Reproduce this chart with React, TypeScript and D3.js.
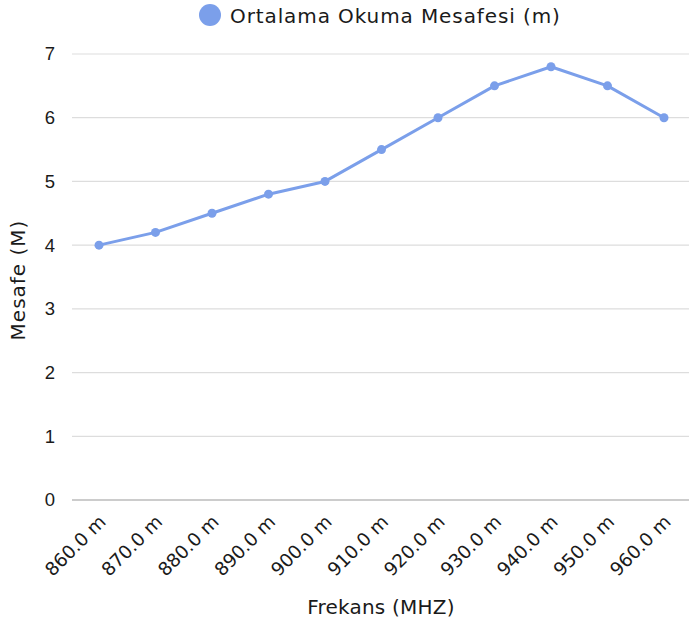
import React, { useEffect, useRef } from "react";
import * as d3 from "d3";

const frequencies = [860, 870, 880, 890, 900, 910, 920, 930, 940, 950, 960];
const distances = [4, 4.2, 4.5, 4.8, 5, 5.5, 6, 6.5, 6.8, 6.5, 6];
const yTicks = [0, 1, 2, 3, 4, 5, 6, 7];
const seriesName = "Ortalama Okuma Mesafesi (m)";

const App = () => {
  const svgRef = useRef<SVGSVGElement>(null);

  useEffect(() => {
    const w = 689;
    const h = 631;
    const color = "#7b9fea";
    const font = "'DejaVu Sans', sans-serif";
    const tickFont = "'Liberation Sans', Arial, sans-serif";

    const svg = d3.select(svgRef.current);
    svg.selectAll("*").remove();
    svg.attr("width", w).attr("height", h).style("font-family", font);

    const x = d3
      .scalePoint<number>()
      .domain(frequencies)
      .range([99, 664]);
    const y = d3.scaleLinear().domain([0, 7]).range([500, 54]);

    // grid
    svg
      .append("g")
      .selectAll("line")
      .data(yTicks)
      .join("line")
      .attr("x1", 72)
      .attr("x2", w)
      .attr("y1", (d) => y(d))
      .attr("y2", (d) => y(d))
      .attr("stroke", (d) => (d === 0 ? "#999" : "#ddd"))
      .attr("stroke-width", 1.2);

    svg
      .append("g")
      .selectAll("text")
      .data(yTicks)
      .join("text")
      .attr("x", 55)
      .attr("y", (d) => y(d))
      .attr("dy", "0.35em")
      .attr("text-anchor", "end")
      .attr("font-family", tickFont)
      .attr("font-size", 18.5)
      .attr("fill", "#1a1a1a")
      .text((d) => d);

    svg
      .append("g")
      .selectAll("text")
      .data(frequencies)
      .join("text")
      .attr(
        "transform",
        (d) => `translate(${(x(d) as number) + 8},${523}) rotate(-45)`
      )
      .attr("text-anchor", "end")
      .attr("font-size", 18.5)
      .attr("fill", "#1a1a1a")
      .text((d) => `${d.toFixed(1)} m`);

    const line = d3
      .line<number>()
      .x((d, i) => x(frequencies[i]) as number)
      .y((d) => y(d));

    svg
      .append("path")
      .datum(distances)
      .attr("d", line)
      .attr("fill", "none")
      .attr("stroke", color)
      .attr("stroke-width", 3)
      .attr("stroke-linejoin", "round");

    svg
      .append("g")
      .selectAll("circle")
      .data(distances)
      .join("circle")
      .attr("cx", (d, i) => x(frequencies[i]) as number)
      .attr("cy", (d) => y(d))
      .attr("r", 4.5)
      .attr("fill", color);

    // legend
    svg
      .append("circle")
      .attr("cx", 210)
      .attr("cy", 15)
      .attr("r", 11)
      .attr("fill", color);
    svg
      .append("text")
      .attr("x", 230)
      .attr("y", 23)
      .attr("font-size", 20)
      .attr("letter-spacing", 0.9)
      .attr("fill", "#1a1a1a")
      .text(seriesName);

    svg
      .append("text")
      .attr("x", 381)
      .attr("y", 614)
      .attr("text-anchor", "middle")
      .attr("font-size", 20)
      .attr("letter-spacing", 0.2)
      .attr("fill", "#1a1a1a")
      .text("Frekans (MHZ)");

    svg
      .append("text")
      .attr("transform", "translate(25,280) rotate(-90)")
      .attr("text-anchor", "middle")
      .attr("font-size", 20)
      .attr("letter-spacing", 1)
      .attr("fill", "#1a1a1a")
      .text("Mesafe (M)");
  }, []);

  return (
    <div style={{ position: "absolute", left: 0, top: 0 }}>
      <svg ref={svgRef} style={{ display: "block" }} />
    </div>
  );
};

export default App;
